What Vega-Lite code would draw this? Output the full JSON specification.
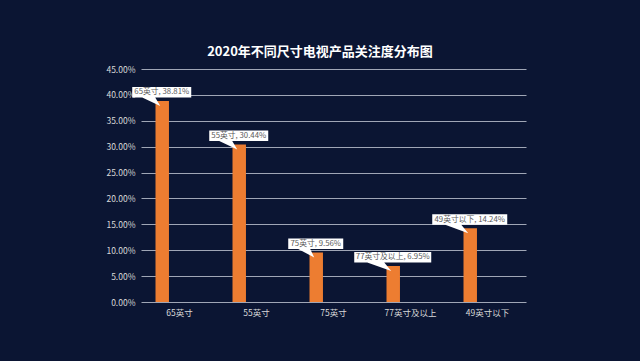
{
  "$schema": "https://vega.github.io/schema/vega-lite/v6.json",
  "autosize": {"type": "none"},
  "width": 385,
  "height": 233,
  "padding": {"left": 141, "top": 69, "right": 114, "bottom": 59},
  "background": "#0b1533",
  "title": {
    "text": "2020年不同尺寸电视产品关注度分布图",
    "color": "#ffffff",
    "fontSize": 13,
    "fontWeight": "bold",
    "font": "Noto Sans CJK SC",
    "anchor": "middle",
    "frame": "group",
    "dx": -13.5,
    "offset": 6
  },
  "config": {
    "view": {"stroke": null},
    "font": "Noto Sans CJK SC"
  },
  "data": {
    "values": [
      {"size": "65英寸", "series": "系列1", "value": 0.3881, "label": "65英寸, 38.81%"},
      {"size": "55英寸", "series": "系列1", "value": 0.3044, "label": "55英寸, 30.44%"},
      {"size": "75英寸", "series": "系列1", "value": 0.0956, "label": "75英寸, 9.56%"},
      {"size": "77英寸及以上", "series": "系列1", "value": 0.0695, "label": "77英寸及以上, 6.95%"},
      {"size": "49英寸以下", "series": "系列1", "value": 0.1424, "label": "49英寸以下, 14.24%"}
    ]
  },
  "encoding": {
    "x": {
      "field": "size",
      "type": "nominal",
      "sort": null,
      "scale": {"paddingInner": 0, "paddingOuter": 0},
      "axis": {
        "title": null,
        "labelAngle": 0,
        "labelColor": "#d9d9d9",
        "labelFontSize": 8.5,
        "labelPadding": 6,
        "ticks": false,
        "domain": false,
        "grid": false
      }
    },
    "xOffset": {
      "field": "series",
      "type": "nominal",
      "scale": {"domain": ["系列1", "系列2"], "paddingInner": 0.61, "paddingOuter": 0.42}
    },
    "y": {
      "field": "value",
      "type": "quantitative",
      "scale": {"domain": [0, 0.45], "nice": false},
      "axis": {
        "title": null,
        "format": ".2%",
        "values": [0, 0.05, 0.1, 0.15, 0.2, 0.25, 0.3, 0.35, 0.4, 0.45],
        "labelColor": "#d9d9d9",
        "labelFontSize": 8.5,
        "labelPadding": 6,
        "ticks": false,
        "domain": false,
        "grid": true,
        "gridColor": "#a0a6b6",
        "gridWidth": 1,
        "gridOpacity": 1
      }
    }
  },
  "layer": [
    {
      "mark": {"type": "bar", "color": "#ed7d31"}
    },
    {
      "mark": {"type": "point", "filled": true, "color": "#ffffff", "opacity": 1, "size": 4, "strokeWidth": 0},
      "encoding": {
        "shape": {
          "field": "size",
          "type": "nominal",
          "legend": null,
          "scale": {
            "domain": ["65英寸", "55英寸", "75英寸", "77英寸及以上", "49英寸以下"],
            "range": [
              "M-30,-14H29V-3.5H-7L-2,5L-20,-3.5H-30Z",
              "M-30,-14H29V-3.5H-7L-2,5L-20,-3.5H-30Z",
              "M-28,-14H27V-3.5H-6L-2,5L-18,-3.5H-28Z",
              "M-39,-14H38V-3.5H-9L-2,5L-26,-3.5H-39Z",
              "M-38,-14H37V-3.5H-9L-2,5L-25,-3.5H-38Z"
            ]
          }
        }
      }
    },
    {
      "mark": {"type": "text", "color": "#595959", "fontSize": 7.8, "align": "center", "baseline": "middle", "dx": -0.5, "dy": -8.7},
      "encoding": {"text": {"field": "label"}}
    }
  ]
}
